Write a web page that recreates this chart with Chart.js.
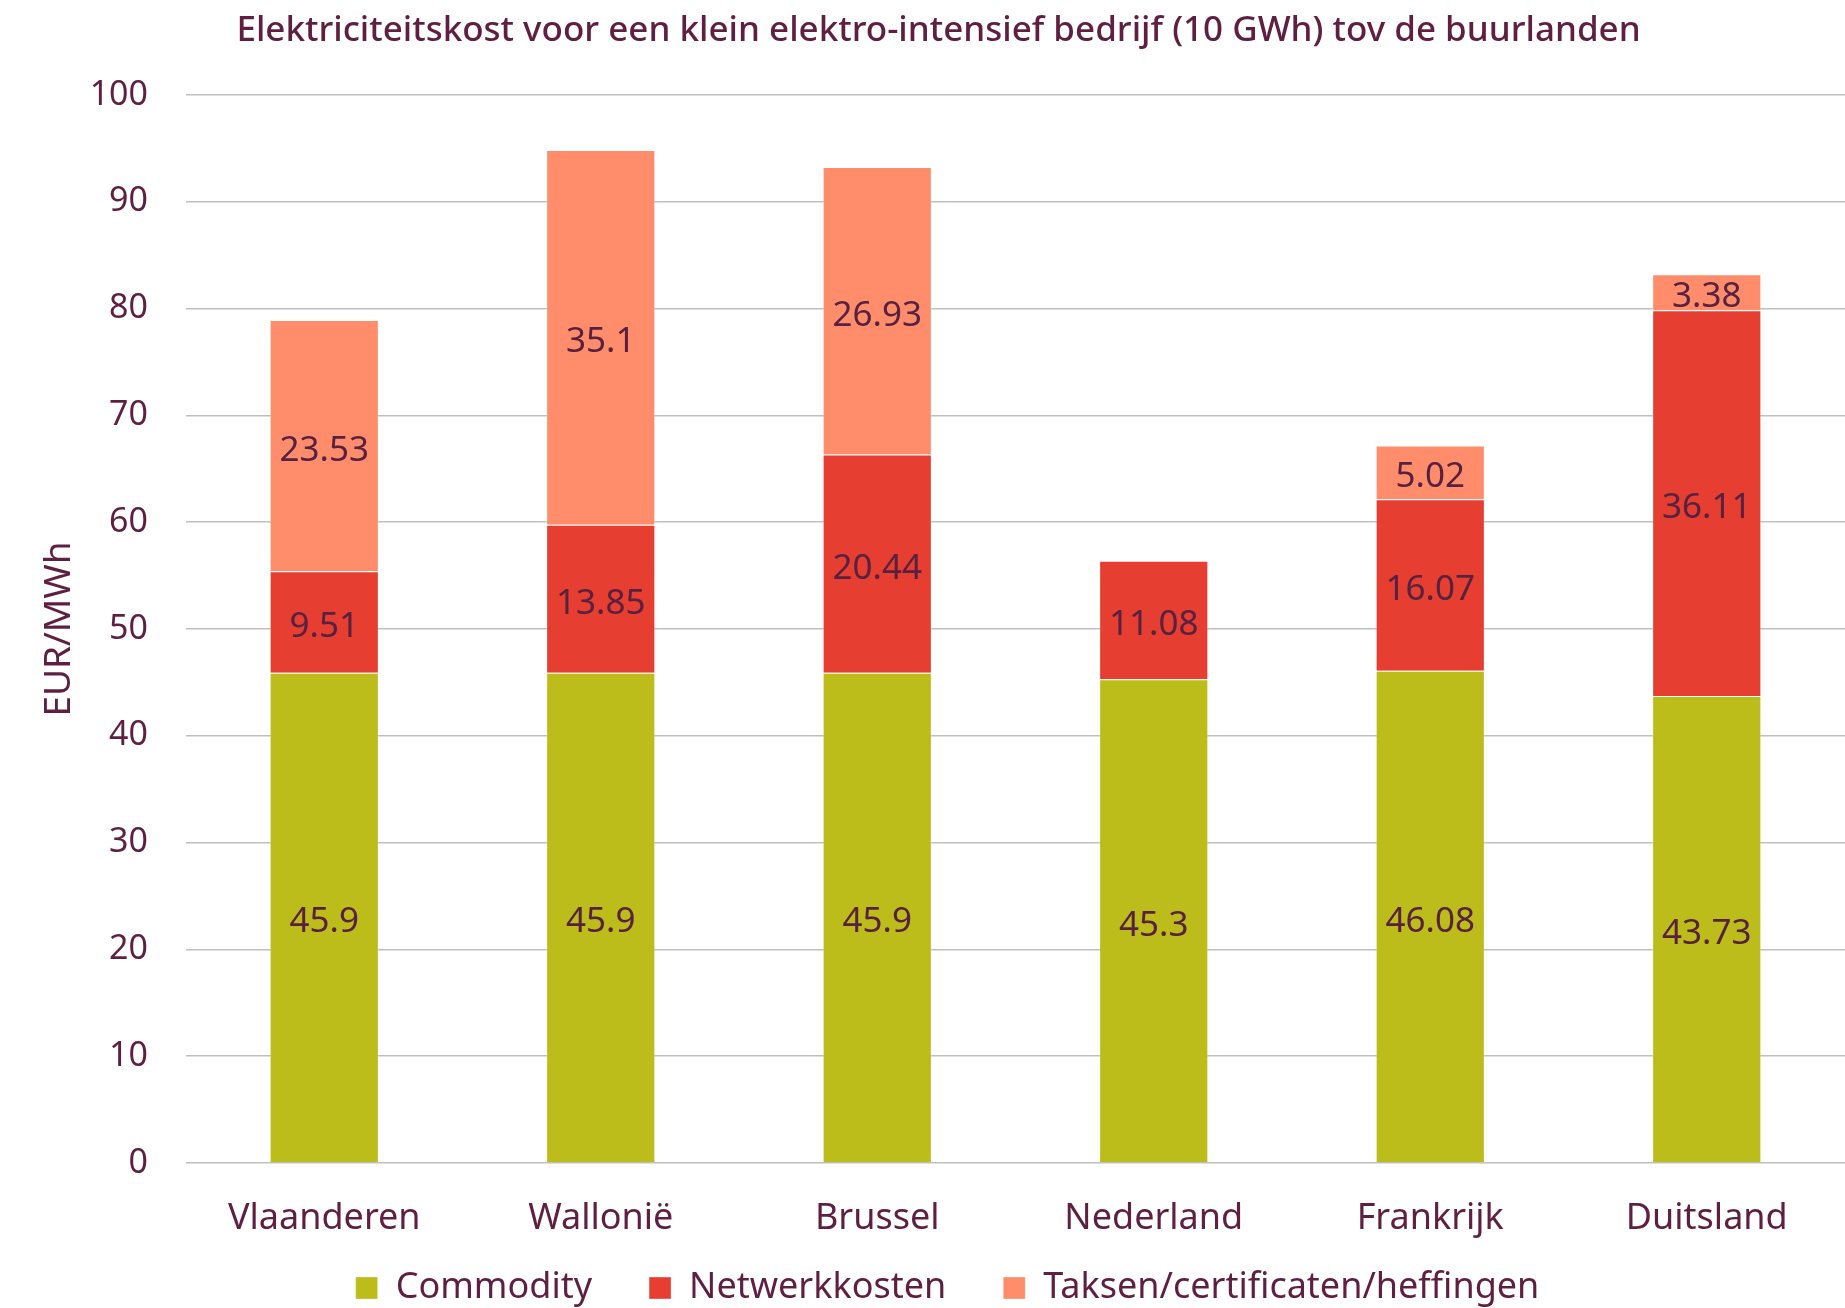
<!DOCTYPE html>
<html>
<head>
<meta charset="utf-8">
<script src="https://cdn.jsdelivr.net/npm/chart.js@4/dist/chart.umd.min.js"></script>
<style>
  html, body { margin: 0; padding: 0; background: #fff; }
  #wrap { width: 1845px; height: 1308px; position: relative; }
</style>
</head>
<body>
<div id="wrap"><canvas id="chart"></canvas></div>
<script>
// categories and series (EUR/MWh)
const regions = ['Vlaanderen', 'Wallonië', 'Brussel', 'Nederland', 'Frankrijk', 'Duitsland']
const commodity = [45.9, 45.9, 45.9, 45.3, 46.08, 43.73]
const netwerk = [9.51, 13.85, 20.44, 11.08, 16.07, 36.11]
const taksen = [23.53, 35.1, 26.93, 0, 5.02, 3.38]
const yTicks = [0, 10, 20, 30, 40, 50, 60, 70, 80, 90, 100]

const textColor = '#5e1f40'
const fontName = "'Noto Sans', sans-serif"

// draws the value in the middle of every bar segment
const segmentLabels = {
    id: 'segmentLabels',
    afterDatasetsDraw(chart) {
        const ctx = chart.ctx
        ctx.save()
        ctx.font = '35px ' + fontName
        ctx.fillStyle = '#57213f'
        ctx.textAlign = 'center'
        ctx.textBaseline = 'middle'
        chart.data.datasets.forEach((ds, i) => {
            const meta = chart.getDatasetMeta(i)
            meta.data.forEach((bar, j) => {
                const v = ds.data[j]
                if (!v) return
                ctx.fillText(String(v), bar.x, (bar.y + bar.base) / 2 + 5)
            })
        })
        ctx.restore()
    }
}

// legend padding is used for the gaps between items too, so fix its height
// and move the box up/right only while drawing
const boxTweaks = {
    id: 'boxTweaks',
    beforeLayout(chart) {
        const lg = chart.legend
        if (lg && !lg._patched) {
            const fit = lg.fit
            lg.fit = function () {
                fit.call(this)
                this.height = 50
            }
            const draw = lg.draw
            lg.draw = function (area) {
                const top = this.top, left = this.left
                this.top = top - 45
                this.left = left + 50
                draw.call(this, area)
                this.top = top
                this.left = left
            }
            lg._patched = true
        }
        const tt = chart.titleBlock
        if (tt && !tt._patched) {
            const draw = tt.draw
            tt.draw = function (area) {
                this.ctx.save()
                this.ctx.translate(16, 0)
                draw.call(this, area)
                this.ctx.restore()
            }
            tt._patched = true
        }
    }
}

new Chart(document.getElementById('chart').getContext('2d'), {
    type: 'bar',
    data: {
        labels: regions,
        datasets: [
            { label: 'Commodity', data: commodity, backgroundColor: '#bcbc1a' },
            { label: 'Netwerkkosten', data: netwerk, backgroundColor: '#e63e30' },
            { label: 'Taksen/certificaten/heffingen', data: taksen, backgroundColor: '#ff8d6b' }
        ].map(d => Object.assign(d, {
            borderColor: 'rgba(255,255,255,0.35)',
            borderWidth: 1,
            barPercentage: 0.395,
            categoryPercentage: 1
        }))
    },
    options: {
        responsive: true,
        maintainAspectRatio: false,
        animation: false,
        layout: { padding: 0 },
        plugins: {
            title: {
                display: true,
                text: 'Elektriciteitskost voor een klein elektro-intensief bedrijf (10 GWh) tov de buurlanden',
                color: textColor,
                font: { family: fontName, size: 35, weight: '500' },
                padding: { top: 10, bottom: 43 }
            },
            legend: {
                position: 'bottom',
                labels: {
                    color: textColor,
                    font: { family: fontName, size: 36 },
                    boxWidth: 22,
                    boxHeight: 22,
                    padding: 57
                }
            },
            tooltip: { enabled: false }
        },
        scales: {
            x: {
                stacked: true,
                grid: { display: false },
                border: { display: false },
                ticks: { color: textColor, font: { family: fontName, size: 36 }, padding: 26 },
                afterFit(scale) { scale.height = 95 }
            },
            y: {
                stacked: true,
                min: 0,
                max: 100,
                afterBuildTicks(scale) { scale.ticks = yTicks.map(v => ({ value: v })) },
                grid: { color: '#bfbfbf', lineWidth: 1.5, drawTicks: false },
                border: { display: false },
                ticks: { color: textColor, font: { family: fontName, size: 34 }, padding: 38 },
                title: {
                    display: true,
                    text: 'EUR/MWh',
                    color: textColor,
                    font: { family: fontName, size: 37 },
                    padding: { top: 37, bottom: 0 }
                },
                afterFit(scale) { scale.width = 186 }
            }
        }
    },
    plugins: [segmentLabels, boxTweaks]
})
</script>
</body>
</html>
